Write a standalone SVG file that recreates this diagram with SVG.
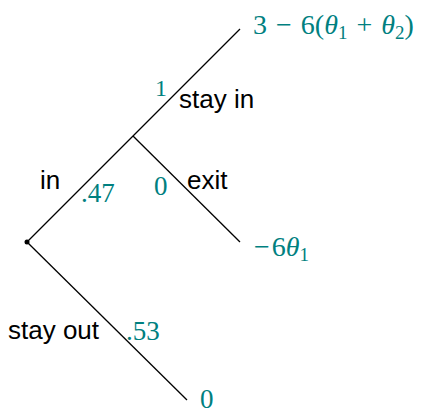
<svg xmlns="http://www.w3.org/2000/svg" width="429" height="415" viewBox="0 0 429 415">
<style>
.e{stroke:#000;stroke-width:1.3;fill:none}
.lab{font-family:"Liberation Sans",Arial,sans-serif;font-size:26px;fill:#000}
.num{font-family:"Liberation Serif","Times New Roman",serif;font-size:27px;fill:#008080}
.it{font-style:italic}
.sub{font-size:19px}
</style>
<rect width="429" height="415" fill="#fff"/>
<g id="edges">
<line class="e" x1="27" y1="242" x2="240" y2="29"/>
<line class="e" x1="133" y1="136" x2="240" y2="242"/>
<line class="e" x1="27" y1="242" x2="187" y2="400"/>
</g>
<g id="root"><circle cx="27" cy="242" r="2.5" fill="#000"/></g>
<g id="n-in">
<text class="lab" x="40" y="189">in</text>
<text class="num" x="81" y="202">.47</text>
</g>
<g id="n-stayout">
<text class="lab" x="8" y="339">stay out</text>
<text class="num" x="126" y="340">.53</text>
<text class="num" x="200" y="408">0</text>
</g>
<g id="n-stayin">
<text class="num" x="155" y="96" style="font-size:24px">1</text>
<text class="lab" x="179" y="108">stay in</text>
<text class="num" x="253" y="34" style="font-size:28px">3<tspan dx="9">−</tspan><tspan dx="9">6(</tspan><tspan class="it">θ</tspan><tspan class="sub" dy="5">1</tspan><tspan dy="-5" dx="9">+</tspan><tspan class="it" dx="9">θ</tspan><tspan class="sub" dy="5">2</tspan><tspan dy="-5">)</tspan></text>
</g>
<g id="n-exit">
<text class="num" x="154" y="195">0</text>
<text class="lab" x="187" y="189">exit</text>
<text class="num" x="254" y="256" style="font-size:28px">−<tspan dx="2">6</tspan><tspan class="it">θ</tspan><tspan class="sub" dy="5">1</tspan></text>
</g>
</svg>
